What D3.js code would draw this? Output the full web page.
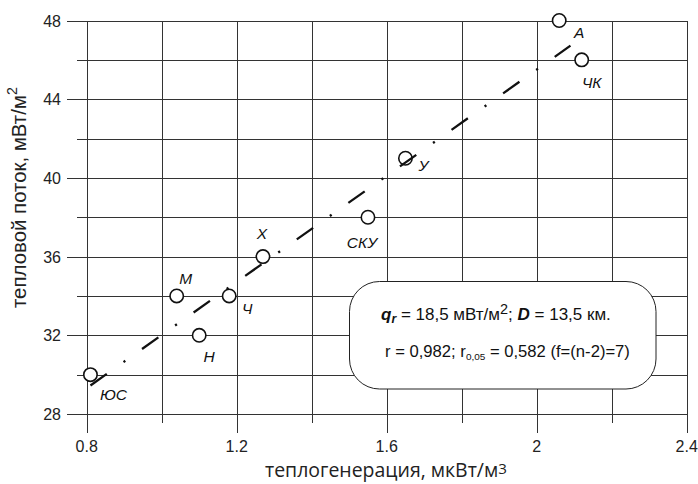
<!DOCTYPE html>
<html>
<head>
<meta charset="utf-8">
<script src="https://cdn.jsdelivr.net/npm/d3@7/dist/d3.min.js"></script>
<style>
  html, body { margin: 0; padding: 0; background: #fff; }
  svg { display: block; }
</style>
</head>
<body>
<script>
// ---- data ----
const stationNames = ["А", "ЧК", "У", "СКУ", "Х", "Ч", "М", "Н", "ЮС"];
const heatGen      = [2.06, 2.12, 1.65, 1.55, 1.27, 1.18, 1.04, 1.10, 0.81];
const heatFlow     = [48, 46, 41, 38, 36, 34, 34, 32, 30];
const fitX = [0.81, 2.09];
const fitY = [29.45, 46.72];
const xTicksMajor = [0.8, 1.2, 1.6, 2.0, 2.4];
const xTickLabels = ["0.8", "1.2", "1.6", "2", "2.4"];
const xTicksMinor = [1.0, 1.4, 1.8, 2.2];
const yTicksMajor = [28, 32, 36, 40, 44, 48];
const yTicksMinor = [30, 34, 38, 42, 46];

// label offsets (px) relative to each point
const labelDx = [20, 10, 18, -6, -1, 18, 9, 10, 23];
const labelDy = [12, 23, 7, 25, -23, 13, -17, 21, 20];

const W = 698, H = 484;
const svg = d3.select("body").append("svg").attr("width", W).attr("height", H);

const x = d3.scaleLinear().domain([0.8, 2.4]).range([86.7, 686.7]);
const y = d3.scaleLinear().domain([28, 48]).range([414, 20.5]);

const grid = svg.append("g").attr("stroke", "#333").attr("stroke-width", 1).attr("shape-rendering", "crispEdges");

grid.selectAll(".hmaj").data(yTicksMajor).join("line")
  .attr("x1", x(0.8) - 20).attr("x2", x(2.4))
  .attr("y1", d => Math.round(y(d)) + 0.5).attr("y2", d => Math.round(y(d)) + 0.5);
grid.selectAll(".hmin").data(yTicksMinor).join("line")
  .attr("x1", x(0.8) - 10).attr("x2", x(2.4))
  .attr("y1", d => Math.round(y(d)) + 0.5).attr("y2", d => Math.round(y(d)) + 0.5);
grid.selectAll(".vmaj").data(xTicksMajor).join("line")
  .attr("x1", d => Math.round(x(d)) + 0.5).attr("x2", d => Math.round(x(d)) + 0.5)
  .attr("y1", y(48)).attr("y2", y(28) + 19);
grid.selectAll(".vmin").data(xTicksMinor).join("line")
  .attr("x1", d => Math.round(x(d)) + 0.5).attr("x2", d => Math.round(x(d)) + 0.5)
  .attr("y1", y(48)).attr("y2", y(28) + 9);

const font = "Liberation Sans, Arial, Helvetica, sans-serif";

// text with segments, sized so its length matches a target width
function fittedText(parent, segs, opts) {
  const t = parent.append("text")
    .attr("font-family", opts.family).attr("fill", "#111")
    .attr("text-anchor", opts.anchor || "start");
  if (opts.transform) t.attr("transform", opts.transform);
  else t.attr("x", opts.x).attr("y", opts.y);
  function build(fs) {
    t.selectAll("tspan").remove();
    t.attr("font-size", fs);
    segs.forEach(s => {
      const ts = t.append("tspan").text(s.t);
      if (s.size) ts.attr("font-size", fs * s.size);
      if (s.dy) ts.attr("dy", fs * s.dy);
      if (s.bold) ts.attr("font-weight", "bold");
      if (s.italic) ts.attr("font-style", "italic");
    });
  }
  build(opts.fs);
  const w = t.node().getComputedTextLength();
  if (opts.width && w > 0) build(opts.fs * opts.width / w);
  return t;
}

// y tick labels
svg.append("g").selectAll("text").data(yTicksMajor).join("text")
  .attr("x", 61).attr("y", d => y(d) + 6)
  .attr("text-anchor", "end")
  .attr("font-family", font).attr("font-size", 16).attr("fill", "#222")
  .text(d => d);

// x tick labels
svg.append("g").selectAll("text").data(xTicksMajor).join("text")
  .attr("x", d => x(d)).attr("y", 452)
  .attr("text-anchor", "middle")
  .attr("font-family", font).attr("font-size", 16).attr("fill", "#222")
  .text((d, i) => xTickLabels[i]);

// axis titles
fittedText(svg, [
  {t: "теплогенерация, мкВт/м"},
  {t: "3", size: 0.78, dy: -0.15}
], {family: "Open Sans, Noto Sans, sans-serif", fs: 17, x: 265, y: 477, width: 242}).attr("fill", "#222");

fittedText(svg, [
  {t: "тепловой поток, мВт/м"},
  {t: "2", size: 0.7, dy: -0.4}
], {family: font, fs: 18, transform: "translate(25.5,308) rotate(-90)", width: 221}).attr("fill", "#222");

// annotation box
svg.append("rect")
  .attr("x", 349.5).attr("y", 281.5).attr("width", 306.5).attr("height", 107.5)
  .attr("rx", 30).attr("ry", 30)
  .attr("fill", "#fff").attr("stroke", "#222").attr("stroke-width", 1);

fittedText(svg, [
  {t: "q", bold: true, italic: true},
  {t: "r", bold: true, italic: true, size: 0.72, dy: 0.2},
  {t: " = 18,5 мВт/м", dy: -0.2},
  {t: "2", size: 0.85, dy: -0.33},
  {t: "; ", dy: 0.33},
  {t: "D", bold: true, italic: true},
  {t: " = 13,5 км."}
], {family: font, fs: 16, x: 381, y: 320, width: 230});

fittedText(svg, [
  {t: "r = 0,982; r"},
  {t: "0,05", size: 0.6, dy: 0.2},
  {t: " = 0,582 (f=(n-2)=7)", dy: -0.2}
], {family: font, fs: 16, x: 385, y: 357, width: 245});

// points
svg.append("g").selectAll("circle").data(heatGen).join("circle")
  .attr("cx", d => x(d)).attr("cy", (d, i) => y(heatFlow[i]))
  .attr("r", 6.7)
  .attr("fill", "#fff").attr("stroke", "#111").attr("stroke-width", 1.6);

// regression line (dash-dot)
svg.append("line")
  .attr("x1", x(fitX[0])).attr("y1", y(fitY[0]))
  .attr("x2", x(fitX[1])).attr("y2", y(fitY[1]))
  .attr("stroke", "#111").attr("stroke-width", 2.3)
  .attr("stroke-dasharray", "20 20.5 2.2 20.5");

// point labels
svg.append("g").selectAll("text").data(stationNames).join("text")
  .attr("x", (d, i) => x(heatGen[i]) + labelDx[i])
  .attr("y", (d, i) => y(heatFlow[i]) + labelDy[i] + 5.5)
  .attr("text-anchor", "middle")
  .attr("font-family", font).attr("font-style", "italic").attr("font-size", 15.5).attr("fill", "#111")
  .text(d => d);
</script>
</body>
</html>
